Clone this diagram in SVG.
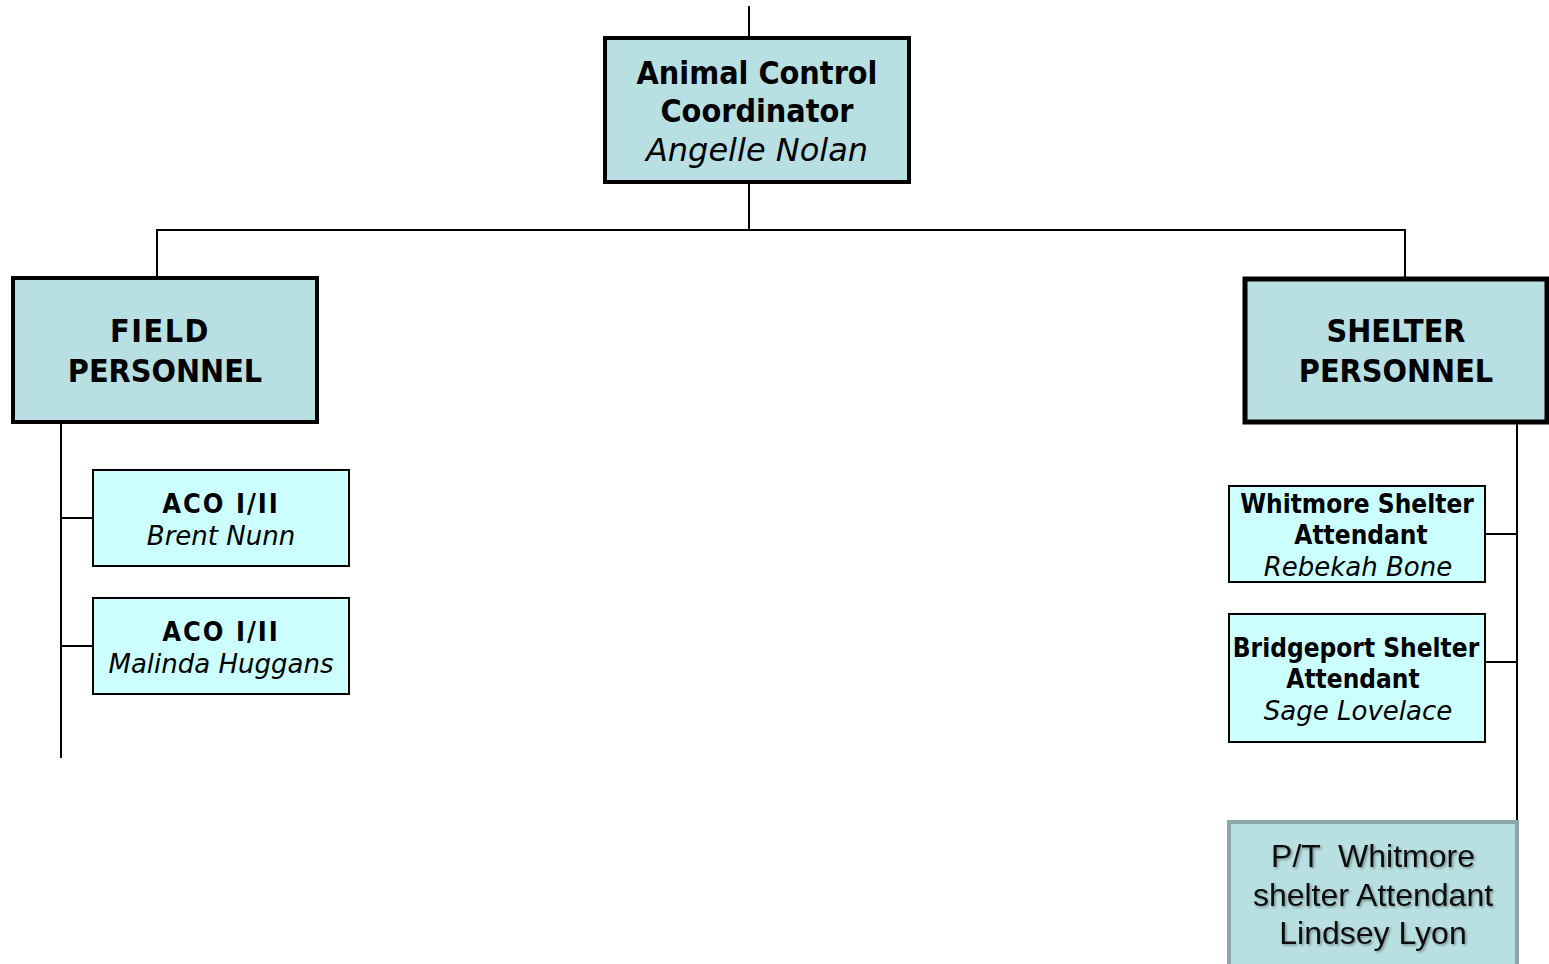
<svg xmlns="http://www.w3.org/2000/svg" width="1549" height="964" viewBox="0 0 1549 964">
<defs>
<style>
.t{font-family:"DejaVu Sans Condensed","DejaVu Sans",Verdana,sans-serif;font-weight:bold;fill:#000;text-anchor:middle}
.i{font-family:"DejaVu Sans",Verdana,sans-serif;font-style:italic;font-weight:normal}
.main{fill:#b8dfe1;stroke:#000}
.sub{fill:#ccffff;stroke:#000;stroke-width:2}
.ln{stroke:#000;stroke-width:2;fill:none}
.a{font-family:"Liberation Sans",Arial,sans-serif;font-size:32px;fill:#111;text-anchor:middle;white-space:pre}
</style>
<filter id="sh" x="-5%" y="-5%" width="110%" height="120%">
<feDropShadow dx="1.5" dy="1.5" stdDeviation="0.8" flood-color="#000" flood-opacity="0.35"/>
</filter>
</defs>
<rect width="1549" height="964" fill="#fff"/>
<g id="connectors" class="ln">
<line x1="749" y1="6" x2="749" y2="38"/>
<line x1="749" y1="182" x2="749" y2="230"/>
<line x1="156" y1="230" x2="1406" y2="230"/>
<line x1="157" y1="230" x2="157" y2="278"/>
<line x1="1405" y1="230" x2="1405" y2="278"/>
<line x1="61" y1="422" x2="61" y2="758"/>
<line x1="61" y1="518" x2="93" y2="518"/>
<line x1="61" y1="646" x2="93" y2="646"/>
<line x1="1517" y1="423" x2="1517" y2="821"/>
<line x1="1485" y1="534" x2="1517" y2="534"/>
<line x1="1485" y1="662" x2="1517" y2="662"/>
</g>
<g id="coordinator">
<rect class="main" x="605" y="38" width="304" height="144" stroke-width="4"/>
<text class="t" font-size="32" x="757" y="84">Animal Control</text>
<text class="t" font-size="32" x="757" y="122">Coordinator</text>
<text class="t i" font-size="32" x="757" y="161">Angelle Nolan</text>
</g>
<g id="field">
<rect class="main" x="13" y="278" width="304" height="144" stroke-width="4"/>
<text class="t" font-size="32" x="160" y="342" letter-spacing="1.5">FIELD</text>
<text class="t" font-size="32" x="165" y="382">PERSONNEL</text>
</g>
<g id="shelter">
<rect class="main" x="1245" y="279" width="302" height="143" stroke-width="5"/>
<text class="t" font-size="32" x="1396" y="342">SHELTER</text>
<text class="t" font-size="32" x="1396" y="382">PERSONNEL</text>
</g>
<g id="aco1">
<rect class="sub" x="93" y="470" width="256" height="96"/>
<text class="t" font-size="27" x="221" y="513" letter-spacing="2">ACO I/II</text>
<text class="t i" font-size="26" x="221" y="545">Brent Nunn</text>
</g>
<g id="aco2">
<rect class="sub" x="93" y="598" width="256" height="96"/>
<text class="t" font-size="27" x="221" y="641" letter-spacing="2">ACO I/II</text>
<text class="t i" font-size="26" x="221" y="673">Malinda Huggans</text>
</g>
<g id="whitmore">
<rect class="sub" x="1229" y="486" width="256" height="96"/>
<text class="t" font-size="26" x="1357" y="513">Whitmore Shelter</text>
<text class="t" font-size="26" x="1361" y="544">Attendant</text>
<text class="t i" font-size="26" x="1358" y="576">Rebekah Bone</text>
</g>
<g id="bridgeport">
<rect class="sub" x="1229" y="614" width="256" height="128"/>
<text class="t" font-size="26" x="1356" y="657">Bridgeport Shelter</text>
<text class="t" font-size="26" x="1353" y="688">Attendant</text>
<text class="t i" font-size="26" x="1358" y="720">Sage Lovelace</text>
</g>
<g id="pt-whitmore">
<rect x="1229" y="822" width="288" height="150" fill="#b8dfe1" stroke="#8aa6a8" stroke-width="4"/>
<g filter="url(#sh)">
<text class="a" x="1373" y="867" xml:space="preserve">P/T  Whitmore</text>
<text class="a" x="1373" y="906">shelter Attendant</text>
<text class="a" x="1373" y="944">Lindsey Lyon</text>
</g>
</g>
</svg>
